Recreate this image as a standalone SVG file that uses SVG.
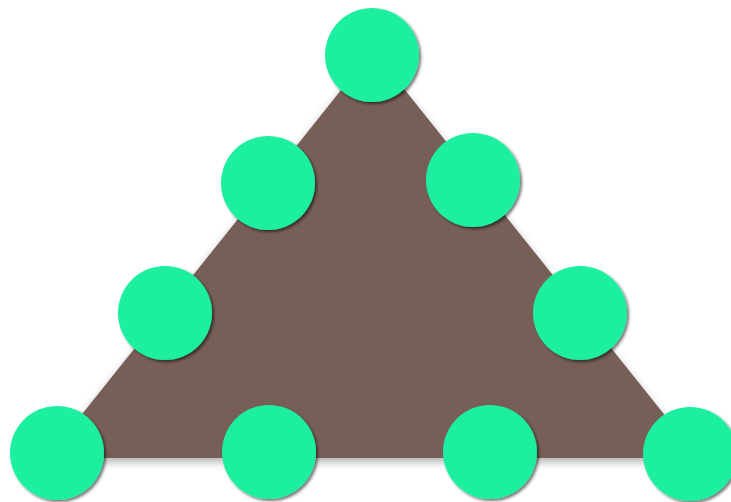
<svg xmlns="http://www.w3.org/2000/svg" width="731" height="502" viewBox="0 0 731 502">
<defs>
<filter id="tshadow" x="-10%" y="-10%" width="120%" height="130%">
<feDropShadow dx="0" dy="4" stdDeviation="4" flood-color="#000" flood-opacity="0.3"/>
</filter>
<filter id="cshadow" x="-20%" y="-20%" width="140%" height="140%">
<feDropShadow dx="2" dy="2" stdDeviation="1.5" flood-color="#000" flood-opacity="0.55"/>
</filter>
<style>
.node circle{fill:#1ef0a0;filter:url(#cshadow)}
</style>
</defs>
<rect width="731" height="502" fill="#ffffff"/>
<g id="triangle">
<polygon points="373,50 47,458 699,458" fill="#775e59" filter="url(#tshadow)"/>
</g>
<g id="n1" class="node"><circle cx="372" cy="55" r="47"/></g>
<g id="n2" class="node"><circle cx="268" cy="183" r="47"/></g>
<g id="n3" class="node"><circle cx="473" cy="180" r="47"/></g>
<g id="n4" class="node"><circle cx="165" cy="313" r="47"/></g>
<g id="n5" class="node"><circle cx="580" cy="313" r="47"/></g>
<g id="n6" class="node"><circle cx="57" cy="453" r="47"/></g>
<g id="n7" class="node"><circle cx="269" cy="452" r="47"/></g>
<g id="n8" class="node"><circle cx="490" cy="452" r="47"/></g>
<g id="n9" class="node"><circle cx="690" cy="454" r="47"/></g>
</svg>
